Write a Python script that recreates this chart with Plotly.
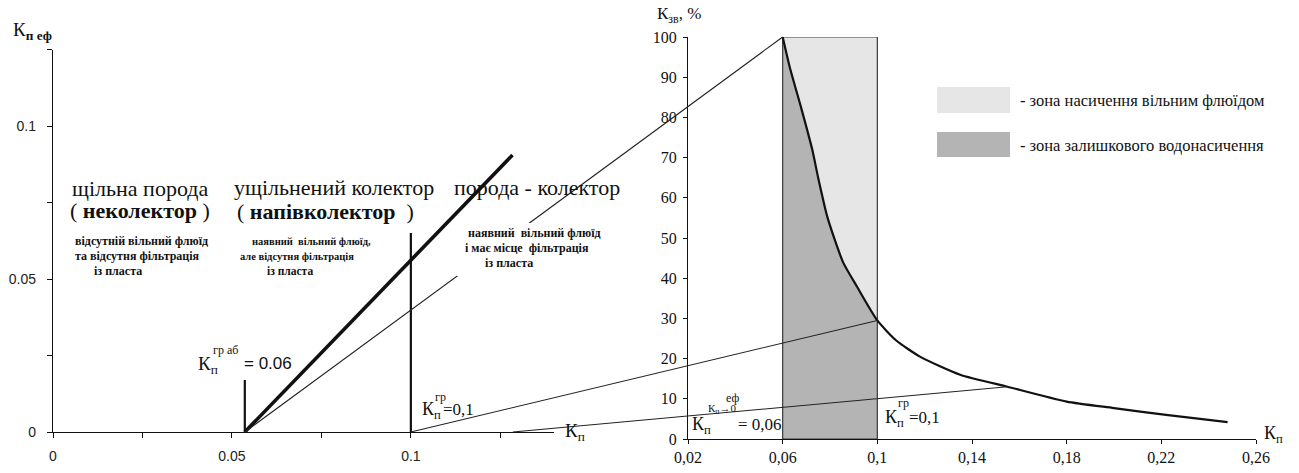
import plotly.graph_objects as go

W, H = 1299, 473
SERIF = "Liberation Serif, Tinos, Times New Roman, serif"
SANS = "Liberation Sans, Arimo, Arial, sans-serif"
INK = "#111111"

# ---------------- data: left panel (Кп еф vs Кп) ----------------
left_xticks = [0, 0.025, 0.05, 0.075, 0.1, 0.125]
left_xtick_labels = ["0", "", "0.05", "", "0.1", ""]
left_yticks = [0, 0.025, 0.05, 0.075, 0.1, 0.125]
left_ytick_labels = ["0", "", "0.05", "", "0.1", ""]

thick_x = [0.0536, 0.1284]          # Кп еф line (bold)
thick_y = [0.0, 0.0905]
vert_x = [0.0536, 0.1]              # Кп гр аб, Кп гр markers
vert_top = [0.017, 0.065]

# ---------------- data: right panel (Кзв vs Кп) ----------------
right_xticks = [0.02, 0.06, 0.10, 0.14, 0.18, 0.22, 0.26]
right_xtick_labels = ["0,02", "0,06", "0,1", "0,14", "0,18", "0,22", "0,26"]
right_yticks = [0, 10, 20, 30, 40, 50, 60, 70, 80, 90, 100]

zone_x = [0.06, 0.1]
zone_y = [0, 100]
curve_x = [0.06, 0.063, 0.068, 0.0725, 0.075, 0.079, 0.0855, 0.0915, 0.1,
           0.108, 0.118, 0.135, 0.155, 0.18, 0.2, 0.222, 0.248]
curve_y = [100, 92.5, 82, 72, 65, 55, 44, 37.8, 29.5,
           24.5, 20.5, 16, 13, 9.3, 7.7, 6, 4.2]

# connecting lines: point on left Кп axis -> point on right panel
conn_left_x = [0.0536, 0.1, 0.1285]
conn_left_y = [0, 0, 0]
conn_right_x = [0.06, 0.1, 0.155]
conn_right_y = [100, 29.5, 13]

# ---------------- layout geometry (pixels) ----------------
L_XR, L_XP = (0, 0.14), (53, 554)
L_YR, L_YP = (0, 0.125), (432, 49.5)
R_XR, R_XP = (0.02, 0.26), (688, 1256)
R_YR, R_YP = (0, 100), (439, 37)


def lin(v, rng, pix):
    return pix[0] + (v - rng[0]) / (rng[1] - rng[0]) * (pix[1] - pix[0])


def fx(px):
    return px / W


def fy(py):
    return 1 - py / H


fig = go.Figure()

# left panel traces
fig.add_trace(go.Scatter(x=thick_x, y=thick_y, mode="lines",
                         line=dict(color=INK, width=3.6), xaxis="x", yaxis="y",
                         hoverinfo="skip", showlegend=False))
for vx, vt in zip(vert_x, vert_top):
    fig.add_trace(go.Scatter(x=[vx, vx], y=[0, vt], mode="lines",
                             line=dict(color=INK, width=2.2), xaxis="x", yaxis="y",
                             hoverinfo="skip", showlegend=False))

# right panel traces
rx = [zone_x[0], zone_x[1], zone_x[1], zone_x[0], zone_x[0]]
ry = [zone_y[0], zone_y[0], zone_y[1], zone_y[1], zone_y[0]]
fig.add_trace(go.Scatter(x=rx, y=ry, mode="lines", fill="toself",
                         fillcolor="#e6e6e6", line=dict(width=0),
                         xaxis="x2", yaxis="y2", hoverinfo="skip", showlegend=False))
dark_x = [x for x in curve_x if x <= zone_x[1]]
dark_y = curve_y[:len(dark_x)]
fig.add_trace(go.Scatter(x=dark_x, y=dark_y, mode="lines", fill="tozeroy",
                         fillcolor="#b4b4b4",
                         line=dict(width=0, shape="spline", smoothing=0.6),
                         xaxis="x2", yaxis="y2", hoverinfo="skip", showlegend=False))
fig.add_trace(go.Scatter(x=rx, y=ry, mode="lines",
                         line=dict(color="#3a3a3a", width=1.2),
                         xaxis="x2", yaxis="y2", hoverinfo="skip", showlegend=False))
fig.add_trace(go.Scatter(x=curve_x, y=curve_y, mode="lines",
                         line=dict(color=INK, width=2.2, shape="spline", smoothing=0.6),
                         xaxis="x2", yaxis="y2", hoverinfo="skip", showlegend=False))

shapes = []
# connecting lines between the panels
for lx, ly, qx, qy in zip(conn_left_x, conn_left_y, conn_right_x, conn_right_y):
    x0 = lin(lx, L_XR, L_XP)
    y0 = lin(ly, L_YR, L_YP)
    x1 = lin(qx, R_XR, R_XP)
    y1 = lin(qy, R_YR, R_YP)
    shapes.append(dict(type="line", xref="paper", yref="paper",
                       x0=fx(x0), y0=fy(y0), x1=fx(x1), y1=fy(y1),
                       line=dict(color="#222222", width=1.1)))
# white mask behind the text block "наявний вільний флюїд ..."
shapes.append(dict(type="rect", xref="paper", yref="paper",
                   x0=fx(457), x1=fx(598), y0=fy(276), y1=fy(223),
                   fillcolor="white", line=dict(width=0)))
# legend keys
shapes.append(dict(type="rect", xref="paper", yref="paper",
                   x0=fx(937), x1=fx(1010), y0=fy(113), y1=fy(87),
                   fillcolor="#e6e6e6", line=dict(width=0)))
shapes.append(dict(type="rect", xref="paper", yref="paper",
                   x0=fx(937), x1=fx(1010), y0=fy(157), y1=fy(132),
                   fillcolor="#b4b4b4", line=dict(width=0)))

ann = []


def A(text, px, py, size, xanchor="left", family=SERIF, color=INK):
    ann.append(dict(text=text, x=fx(px), y=fy(py), xref="paper", yref="paper",
                    xanchor=xanchor, yanchor="middle", showarrow=False,
                    font=dict(family=family, size=size, color=color)))


# left panel texts
A("К<sub><b>п еф</b></sub>", 11, 31, 19)
A("щільна порода", 140, 188, 22, "center")
A("( <b>неколектор</b> )", 140, 211, 22, "center")
A("<b>відсутній вільний флюїд</b>", 73, 241, 12)
A("<b>та відсутня фільтрація</b>", 73, 256, 12)
A("<b>із пласта</b>", 92, 271, 12)

A("ущільнений колектор", 232, 187, 22)
A("( <b>напівколектор</b>  )", 235, 212, 22)
A("<b>наявний  вільний флюїд,</b>", 250, 241, 10.5)
A("<b>але відсутня фільтрація</b>", 238, 256, 10.5)
A("<b>із пласта</b>", 265, 271, 11.5)

A("порода - колектор", 452, 187, 22)
A("<b>наявний  вільний флюїд</b>", 466, 233, 12)
A("<b>і має місце  фільтрація</b>", 463, 248, 12)
A("<b>із пласта</b>", 483, 263, 12)

A("К<sub>п</sub>", 196, 365, 19)
A("гр аб", 211, 350, 12)
A("= 0.06", 242, 363, 17, family=SANS)

A("К<sub>п</sub>", 420, 410, 18)
A("гр", 433, 397, 12)
A("=0,1", 441, 409, 17)

A("К<sub>п</sub>", 563, 432, 19)

# right panel texts
A("К<sub>зв</sub>, %", 655, 15, 17)
A("К<sub>п</sub>", 690, 425, 18)
A("еф", 724, 398, 12)
A("К<sub>п</sub>→0", 706, 409, 11)
A("= 0,06", 736, 424, 17)
A("К<sub>п</sub>", 883, 418, 18)
A("гр", 896, 403, 12)
A("=0,1", 907, 417, 17)
A("К<sub>п</sub>", 1262, 434, 18)

A("- зона насичення вільним флюїдом", 1018, 101, 16.5)
A("- зона залишкового водонасичення", 1018, 146, 16.5)

axis_common = dict(showline=True, linecolor=INK, linewidth=1.3, ticks="outside",
                   tickcolor=INK, tickwidth=1.2, showgrid=False, zeroline=False,
                   fixedrange=True, automargin=False)

fig.update_layout(
    width=W, height=H, margin=dict(l=0, r=0, t=0, b=0),
    paper_bgcolor="white", plot_bgcolor="rgba(0,0,0,0)", showlegend=False,
    xaxis=dict(domain=[fx(L_XP[0]), fx(L_XP[1])], range=list(L_XR), anchor="y",
               tickmode="array", tickvals=left_xticks, ticktext=left_xtick_labels,
               ticklen=5, ticklabelstandoff=6,
               tickfont=dict(family=SANS, size=14, color="#222"), **axis_common),
    yaxis=dict(domain=[fy(L_YP[0]), fy(L_YP[1])], range=list(L_YR), anchor="x",
               tickmode="array", tickvals=left_yticks, ticktext=left_ytick_labels,
               ticklen=5, ticklabelstandoff=8,
               tickfont=dict(family=SANS, size=14, color="#222"), **axis_common),
    xaxis2=dict(domain=[fx(R_XP[0]), fx(R_XP[1])], range=list(R_XR), anchor="y2",
                tickmode="array", tickvals=right_xticks, ticktext=right_xtick_labels,
                ticklen=4, ticklabelstandoff=0,
                tickfont=dict(family=SERIF, size=16, color=INK), **axis_common),
    yaxis2=dict(domain=[fy(R_YP[0]), fy(R_YP[1])], range=list(R_YR), anchor="x2",
                tickmode="array", tickvals=right_yticks,
                ticklen=4, ticklabelstandoff=3,
                tickfont=dict(family=SERIF, size=16, color=INK), **axis_common),
    shapes=shapes, annotations=ann,
)

fig.write_html("out.html", config={"displayModeBar": False},
               post_script="document.body.style.margin='0';document.body.style.overflow='hidden';")
